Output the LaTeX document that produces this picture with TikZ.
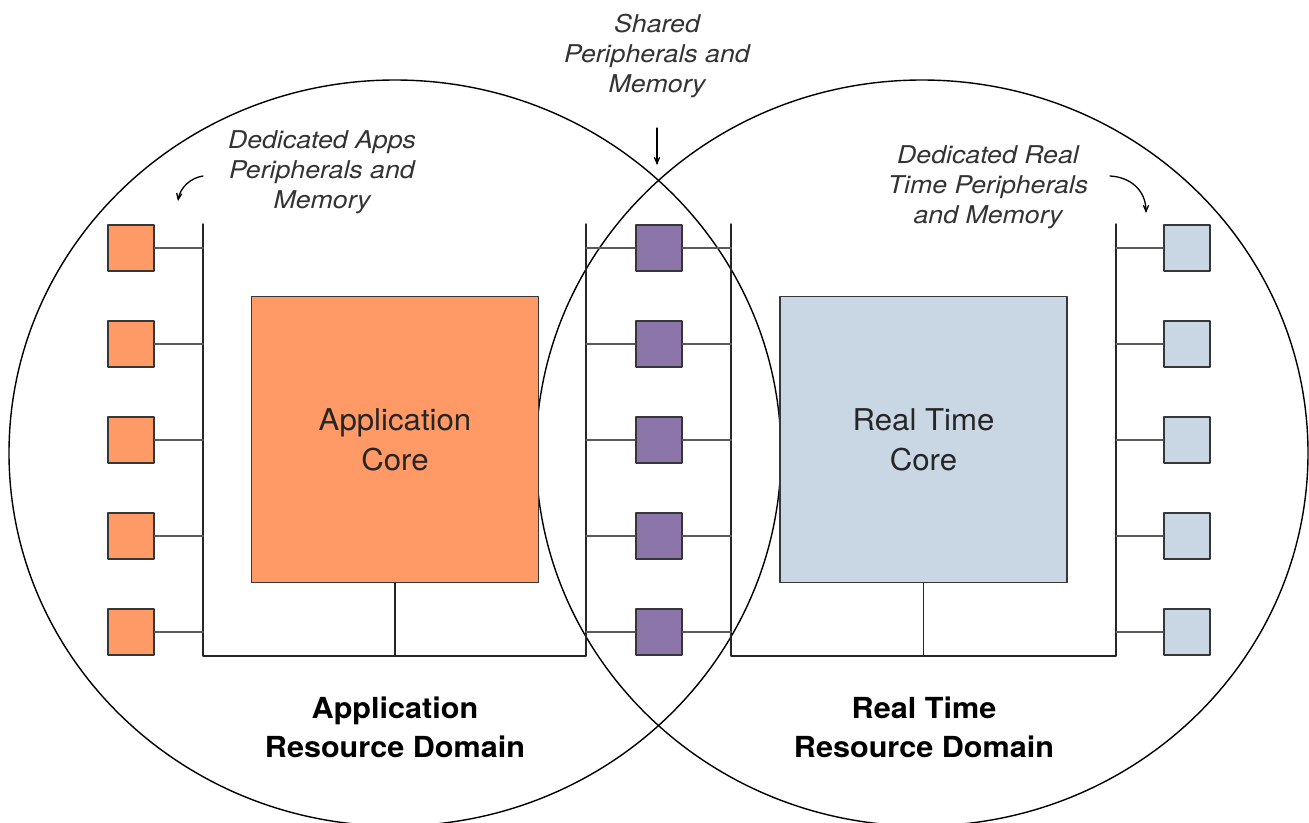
\documentclass[tikz,border=0pt]{standalone}
\usepackage{fontspec}
\setmainfont{TeX Gyre Heros}
\newfontfamily\notefont[FakeStretch=1.09]{TeX Gyre Heros}
\newfontfamily\corefont[FakeStretch=1.04]{TeX Gyre Heros}
\newfontfamily\domainfont[FakeStretch=1.055]{TeX Gyre Heros}
\usetikzlibrary{arrows}

\definecolor{apporange}{RGB}{255,153,102}
\definecolor{sharedpurple}{RGB}{140,117,168}
\definecolor{rtblue}{RGB}{201,214,228}
\definecolor{edgegray}{RGB}{55,55,55}

\tikzset{
	periph/.style={draw=edgegray,line width=1.8pt,minimum size=46.5pt,inner sep=0pt},
	core/.style={draw=edgegray,line width=1.4pt,minimum width=287pt,minimum height=286pt,inner sep=0pt,
		font=\corefont\fontsize{30}{40}\selectfont,align=center,text=black!85},
	note/.style={font=\notefont\fontsize{24.5}{30}\selectfont\itshape,align=center,text=black!80},
	domainlabel/.style={font=\domainfont\fontsize{29}{39}\selectfont\bfseries,align=center},
	bus/.style={line width=1.4pt,draw=black!85},
	link/.style={line width=2pt,draw=black!65}
}

\begin{document}
\begin{tikzpicture}[line cap=round,line join=round,>=angle 45,x=1pt,y=-1pt]
		\useasboundingbox (0,0) rectangle (1309,822);
		% resource domains
		\draw [line width=1.4pt] (395,453) ellipse (386pt and 373pt);
		\draw [line width=1.4pt] (922,453) ellipse (386pt and 373pt);
		% cores
		\node [core,fill=apporange] (appcore) at (395,439.5) {Application\\Core};
		\node [core,fill=rtblue] (rtcore) at (923.5,439.5) {Real Time\\Core};
		% buses
		\coordinate (abusl) at (203,224);
		\coordinate (abusr) at (586,224);
		\coordinate (rbusl) at (731,224);
		\coordinate (rbusr) at (1116,224);
		\draw [bus] (abusl) -- (203,656) -- (586,656) -- (abusr);
		\draw [bus] (rbusl) -- (731,656) -- (1116,656) -- (rbusr);
		\draw [bus] (appcore.south) -- (appcore.south |- 0,656);
		\draw [bus] (rtcore.south) -- (rtcore.south |- 0,656);
		% peripherals and memory
		\foreach \i/\y in {1/248,2/344,3/440,4/536,5/632}{
			\node [periph,fill=apporange] (app\i) at (131,\y) {};
			\node [periph,fill=sharedpurple] (sh\i) at (659,\y) {};
			\node [periph,fill=rtblue] (rt\i) at (1187,\y) {};
			\draw [link] (app\i.east) -- (app\i.east -| abusl);
			\draw [link] (sh\i.west) -- (sh\i.west -| abusr);
			\draw [link] (sh\i.east) -- (sh\i.east -| rbusl);
			\draw [link] (rt\i.west) -- (rt\i.west -| rbusr);
		}
		% notes
		\node [note] (sharednote) at (657,56) {Shared\\Peripherals and\\Memory};
		\node [note] (appnote) at (322,172) {Dedicated Apps\\Peripherals and\\Memory};
		\node [note] (rtnote) at (988,187) {Dedicated Real\\Time Peripherals\\and Memory};
		\coordinate (sharedfrom) at (657,128);
		\coordinate (sharedtip) at (657,165);
		\draw [->,line width=1.3pt] (sharedfrom) -- (sharedtip);
		\coordinate (appfrom) at (203,176);
		\coordinate (appto) at (178,201);
		\draw [->,line width=1.3pt] (appfrom) .. controls (190,178) and (180,188) .. (appto);
		\coordinate (rtfrom) at (1110,176);
		\coordinate (rtto) at (1146,213);
		\draw [->,line width=1.3pt] (rtfrom) .. controls (1130,177) and (1146,190) .. (rtto);
		% domain labels
		\node [domainlabel] (appdomain) at (395,727) {Application\\Resource Domain};
		\node [domainlabel] (rtdomain) at (924,727) {Real Time\\Resource Domain};
	\end{tikzpicture}
\end{document}
